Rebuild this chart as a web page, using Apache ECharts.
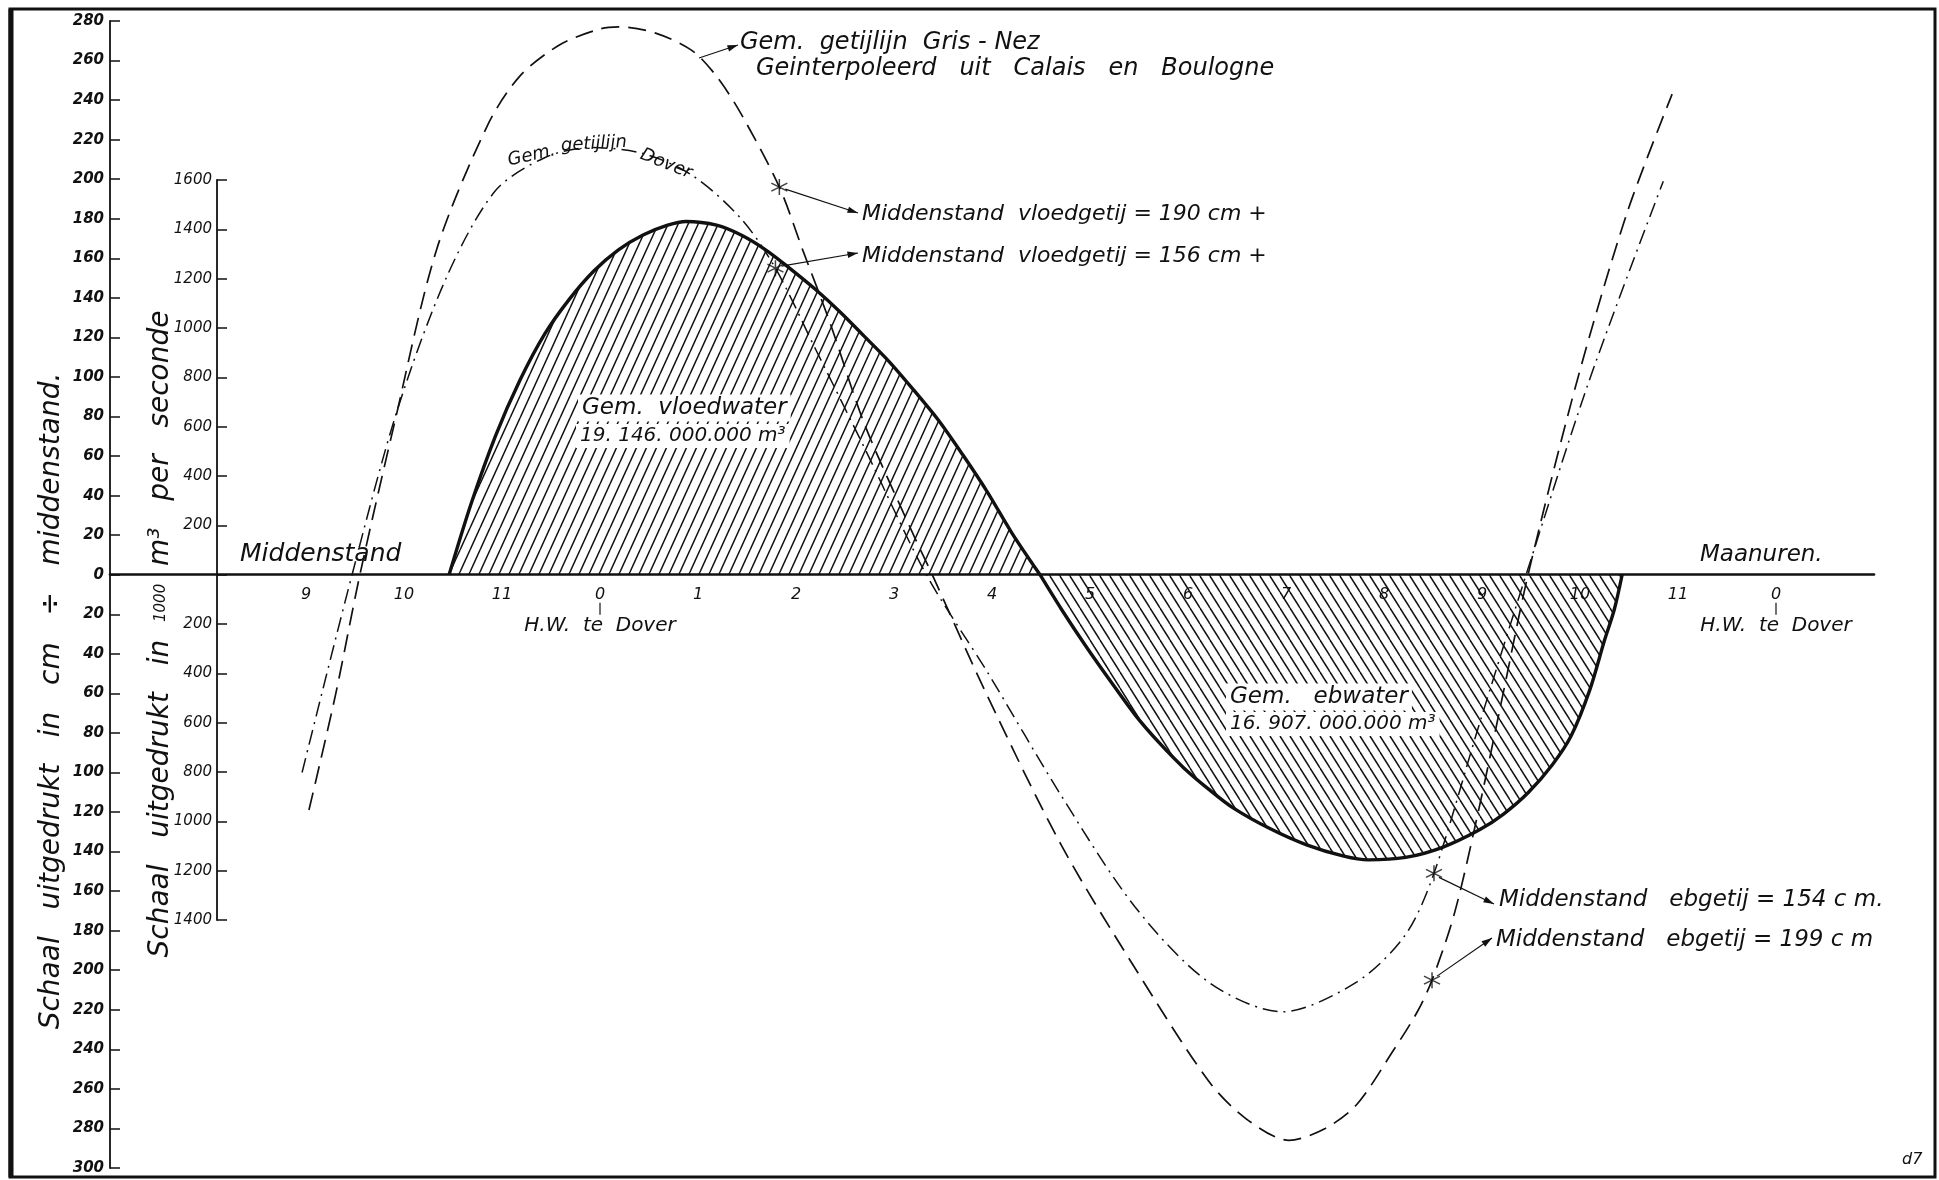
<!DOCTYPE html>
<html><head><meta charset="utf-8">
<script src="https://cdn.jsdelivr.net/npm/echarts@6/dist/echarts.min.js"></script>
<style>html,body{margin:0;padding:0;background:#fff}#c{width:1939px;height:1180px}</style>
</head><body><div id="c"></div>
<script>
// ---------------- data (hours relative to H.W. Dover; cm ÷ middenstand; 1000 m3/s) -------------
const hourLabels = ['9','10','11','0','1','2','3','4','5','6','7','8','9','10','11','0']; // t = -3 .. 12
const grisNezHours = [-2.97,-2.70,-2.45,-2.10,-1.67,-1.15,-0.82,-0.41,0,0.19,0.56,0.94,1.19,1.44,1.83,2.07,2.35,2.70,3.20,3.39,3.95,4.71,5.46,6.21,6.59,7.03,7.40,7.72,8.09,8.34,8.49,8.72,8.97,9.22,9.47,9.97,10.48,10.94];
const grisNezCm    = [-119,-61,0,76,164,227,252,268,276,277,274,265,252,233,196,164,127,76,20,0,-61,-137,-199,-256,-275,-286,-280,-268,-241,-221,-205,-171,-118,-59,0,98,183,243];
const doverHours = [-3.04,-2.53,-2.07,-1.57,-1.07,-0.56,-0.09,0.44,0.94,1.44,1.79,2.20,2.70,3.33,3.95,4.71,5.46,6.21,6.96,7.72,8.22,8.51,8.97,9.45,10.10,10.85];
const doverCm    = [-100,0,83,150,194,211,216,213,202,180,155,114,64,0,-49,-112,-168,-206,-221,-206,-182,-151,-76,0,99,199];
const vloedHours = [-1.54,-1.317,-1.066,-0.816,-0.565,-0.314,-0.063,0.188,0.439,0.69,0.878,1.19,1.44,1.69,1.94,2.2,2.45,2.7,2.95,3.2,3.45,3.7,3.95,4.2,4.49];
const vloedFlow  = [0,286,563,789,975,1116,1231,1317,1377,1417,1432,1417,1377,1317,1241,1156,1065,965,864,749,628,487,337,171,0];
const ebHours = [4.49,4.71,4.96,5.21,5.46,5.71,5.96,6.21,6.46,6.84,7.21,7.59,7.84,8.22,8.59,8.97,9.22,9.47,9.72,9.91,10.1,10.25,10.35,10.43];
const ebFlow  = [0,-141,-291,-432,-568,-683,-784,-869,-945,-1030,-1095,-1141,-1156,-1146,-1106,-1035,-970,-884,-769,-653,-467,-266,-141,0];
const markerHours = [1.83,1.79,8.51,8.49];
const markerCm    = [196,155,-151,-205];
const cmTicks = {min:-300, max:280, step:20};
const flowTicks = {min:-1400, max:1600, step:200};

// ---------------- layout ----------------
const W = 1939, H = 1180;
const G1 = {left:110, right:65, top:21, bottom:12};
const zeroY = G1.top + cmTicks.max / (cmTicks.max - cmTicks.min) * (H - G1.top - G1.bottom);
const G2top = 180;
const G2h = (zeroY - G2top) * (flowTicks.max - flowTicks.min) / flowTicks.max;
const G2 = {left:217, right:65, top:G2top, bottom:H - G2top - G2h};
const X_MIN = -5, X_MAX = 13;
const hourPx = (W - G1.left - G1.right) / (X_MAX - X_MIN);
const X2_MIN = X_MIN + (G2.left - G1.left) / hourPx;
const FONT = 'DejaVu Sans';
const zip = (a, b) => a.map((v, i) => [v, b[i]]);

function hatch(w, h, dir) {
  const c = document.createElement('canvas'); c.width = w; c.height = h;
  const g = c.getContext('2d'); g.strokeStyle = '#111'; g.lineWidth = 1.5;
  for (let k = -1; k <= 1; k++) {
    g.beginPath();
    if (dir > 0) { g.moveTo(k * w, h); g.lineTo(k * w + w, 0); }
    else { g.moveTo(k * w, 0); g.lineTo(k * w + w, h); }
    g.stroke();
  }
  return c;
}

const labelStyle = {fontFamily: FONT, fontStyle: 'italic', color: '#111'};
const chart = echarts.init(document.getElementById('c'), null, {renderer: 'canvas'});
const asterisk = 'path://M0,-10L0,10M-9,-5L9,5M-9,5L9,-5';

chart.setOption({
  animation: false,
  backgroundColor: '#fff',
  grid: [
    {left: G1.left, right: G1.right, top: G1.top, bottom: G1.bottom},
    {left: G2.left, right: G2.right, top: G2.top, bottom: G2.bottom},
    {left: G1.left, right: G1.right, top: G1.top, bottom: H - zeroY}
  ],
  xAxis: [
    {gridIndex: 0, type: 'value', min: X_MIN, max: X_MAX, show: false},
    {gridIndex: 1, type: 'value', min: X2_MIN, max: X_MAX, show: false},
    {gridIndex: 2, type: 'value', min: X_MIN, max: X_MAX, interval: 1, position: 'bottom',
     axisLine: {show: true, onZero: false, lineStyle: {color: '#111', width: 2.6}},
     axisTick: {show: false}, splitLine: {show: false},
     axisLabel: Object.assign({margin: 12, fontSize: 16, formatter: v => { const i = Math.round(v) + 3; return (i >= 0 && i < hourLabels.length) ? hourLabels[i] : ''; }}, labelStyle)}
  ],
  yAxis: [
    {gridIndex: 0, type: 'value', min: cmTicks.min, max: cmTicks.max, interval: cmTicks.step,
     axisLine: {show: true, onZero: false, lineStyle: {color: '#111', width: 1.8}},
     axisTick: {show: true, inside: true, length: 10, lineStyle: {color: '#111', width: 1.5}},
     splitLine: {show: false},
     axisLabel: Object.assign({margin: 6, fontSize: 15, fontWeight: 'bold', formatter: v => String(Math.abs(v))}, labelStyle)},
    {gridIndex: 1, type: 'value', min: flowTicks.min, max: flowTicks.max, interval: flowTicks.step,
     axisLine: {show: true, onZero: false, lineStyle: {color: '#111', width: 1.8}},
     axisTick: {show: true, inside: true, length: 10, lineStyle: {color: '#111', width: 1.5}},
     splitLine: {show: false},
     axisLabel: Object.assign({margin: 5, fontSize: 15, formatter: v => v === 0 ? '' : String(Math.abs(v))}, labelStyle)},
    {gridIndex: 2, type: 'value', min: 0, max: 1, show: false}
  ],
  series: [
    {name: 'Gem. getijlijn Gris-Nez', type: 'line', xAxisIndex: 0, yAxisIndex: 0, data: zip(grisNezHours, grisNezCm),
     smooth: 0.3, showSymbol: false, lineStyle: {color: '#111', width: 1.7, type: [18, 9]}, z: 4},
    {name: 'Gem. getijlijn Dover', type: 'line', xAxisIndex: 0, yAxisIndex: 0, data: zip(doverHours, doverCm),
     smooth: 0.3, showSymbol: false, lineStyle: {color: '#111', width: 1.5, type: [15, 6, 2, 6]}, z: 4},
    {name: 'Gem. vloedwater', type: 'line', xAxisIndex: 1, yAxisIndex: 1, data: zip(vloedHours, vloedFlow),
     smooth: 0.3, showSymbol: false, lineStyle: {color: '#111', width: 3.4},
     areaStyle: {origin: 'auto', opacity: 1, color: {image: hatch(10, 22, 1), repeat: 'repeat'}}, z: 3},
    {name: 'Gem. ebwater', type: 'line', xAxisIndex: 1, yAxisIndex: 1, data: zip(ebHours, ebFlow),
     smooth: 0.3, showSymbol: false, lineStyle: {color: '#111', width: 3.4},
     areaStyle: {origin: 'auto', opacity: 1, color: {image: hatch(10, 16, -1), repeat: 'repeat'}}, z: 3},
    {name: 'Middenstand', type: 'scatter', xAxisIndex: 0, yAxisIndex: 0, data: zip(markerHours, markerCm),
     symbol: asterisk, symbolSize: 16, itemStyle: {color: 'rgba(0,0,0,0)', borderColor: '#111', borderWidth: 1.5}, z: 6}
  ]
});

// ---------------- annotations ----------------
function txt(text, x, y, size, opts) {
  opts = opts || {};
  return {type: 'text', x: x, y: y, rotation: opts.rot || 0, z: 10,
    style: Object.assign({text: text, font: 'italic ' + size + 'px "' + FONT + '"', fill: '#111',
      align: opts.align || 'left', verticalAlign: 'middle'}, opts.style || {})};
}
function arrow(x1, y1, x2, y2) {
  const a = Math.atan2(y2 - y1, x2 - x1), L = 11, s = 0.3;
  return [
    {type: 'line', z: 10, shape: {x1: x1, y1: y1, x2: x2, y2: y2}, style: {stroke: '#111', lineWidth: 1.2}},
    {type: 'polygon', z: 10, shape: {points: [[x2, y2], [x2 - L * Math.cos(a - s), y2 - L * Math.sin(a - s)], [x2 - L * Math.cos(a + s), y2 - L * Math.sin(a + s)]]}, style: {fill: '#111'}}
  ];
}
const px = (t, v) => chart.convertToPixel({xAxisIndex: 0, yAxisIndex: 0}, [t, v]);
const m = markerHours.map((t, i) => px(t, markerCm[i]));
const hw0 = px(0, 0)[0], hw12 = px(12, 0)[0];
const whiteBg = {backgroundColor: '#fff', padding: [2, 4]};

const g = [
  {type: 'rect', z: 20, shape: {x: 10, y: 9, width: 1925, height: 1168}, style: {fill: 'none', stroke: '#111', lineWidth: 3}},
  {type: 'line', z: 20, shape: {x1: 11, y1: 9, x2: 11, y2: 1177}, style: {stroke: '#111', lineWidth: 5}},
  txt('Schaal   uitgedrukt   in   cm   ÷   middenstand.', 52, 701, 28, {align: 'center', rot: Math.PI / 2}),
  txt('Schaal   uitgedrukt   in  {s|1000}  m³   per   seconde', 161, 634, 28, {align: 'center', rot: Math.PI / 2,
      style: {rich: {s: {fontSize: 15, fontStyle: 'italic', fontFamily: FONT}}}}),
  txt('Middenstand', 240, zeroY - 20, 25),
  txt('Maanuren.', 1700, zeroY - 20, 23),
  txt('H.W.  te  Dover', hw0, zeroY + 51, 20, {align: 'center'}),
  txt('H.W.  te  Dover', hw12, zeroY + 51, 20, {align: 'center'}),
  {type: 'line', z: 10, shape: {x1: hw0, y1: zeroY + 28, x2: hw0, y2: zeroY + 40}, style: {stroke: '#111', lineWidth: 1.2}},
  {type: 'line', z: 10, shape: {x1: hw12, y1: zeroY + 28, x2: hw12, y2: zeroY + 40}, style: {stroke: '#111', lineWidth: 1.2}},
  txt('Gem.  getijlijn  Gris - Nez', 740, 43, 24),
  txt('Geinterpoleerd   uit   Calais   en   Boulogne', 756, 69, 24),
  txt('Gem.', 508, 161, 18, {rot: 0.22}),
  txt('getijlijn', 561, 146, 18, {rot: 0.06}),
  txt('Dover', 641, 154, 18, {rot: -0.38}),
  txt('Middenstand  vloedgetij = 190 cm +', 862, 214, 22),
  txt('Middenstand  vloedgetij = 156 cm +', 862, 256, 22),
  txt('Middenstand   ebgetij = 154 c m.', 1499, 900, 23),
  txt('Middenstand   ebgetij = 199 c m', 1496, 940, 23),
  txt('Gem.  vloedwater', 578, 408, 23, {style: whiteBg}),
  txt('19. 146. 000.000 m³', 576, 436, 20, {style: whiteBg}),
  txt('Gem.   ebwater', 1226, 697, 23, {style: whiteBg}),
  txt('16. 907. 000.000 m³', 1226, 724, 20, {style: whiteBg}),
  txt('d7', 1902, 1160, 16)
].concat(
  arrow(699, 58, 738, 45),
  arrow(m[0][0] + 6, m[0][1] + 2, 858, 213),
  arrow(m[1][0] + 6, m[1][1] - 2, 858, 253),
  arrow(m[2][0] + 5, m[2][1] + 4, 1494, 904),
  arrow(m[3][0] + 5, m[3][1] - 4, 1492, 938)
);
chart.setOption({graphic: g});
</script>
</body></html>
